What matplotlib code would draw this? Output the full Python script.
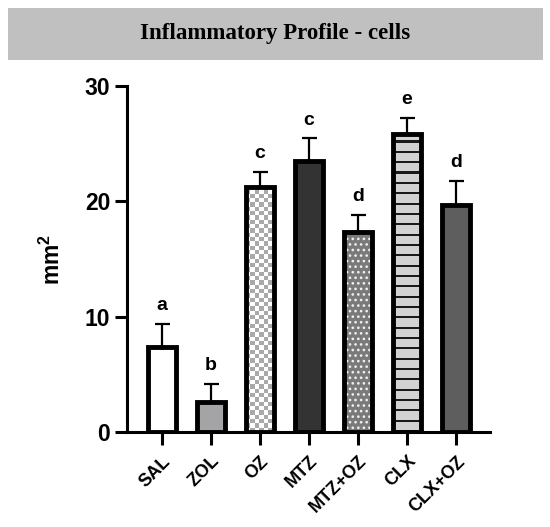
import numpy as np
import matplotlib
matplotlib.use("Agg")
import matplotlib.pyplot as plt
from matplotlib.patches import Rectangle
from matplotlib.colors import ListedColormap

plt.rcParams['font.family'] = ['Liberation Sans', 'DejaVu Sans']
plt.rcParams['font.weight'] = 'bold'
plt.rcParams['mathtext.fontset'] = 'custom'
plt.rcParams['mathtext.rm'] = 'Liberation Sans:bold'
plt.rcParams['mathtext.bf'] = 'Liberation Sans:bold'
plt.rcParams['hatch.linewidth'] = 1.1

categories = ["SAL", "ZOL", "OZ", "MTZ", "MTZ+OZ", "CLX", "CLX+OZ"]
means = [7.4, 2.6, 21.2, 23.5, 17.3, 25.8, 19.7]
errors = [2.0, 1.6, 1.35, 1.95, 1.55, 1.45, 2.1]
letters = ["a", "b", "c", "c", "d", "e", "d"]
yticks = [0, 10, 20, 30]

faces = ["white", "#a4a4a6", "white", "#333333", "#7a7a7a", "#d2d2d2", "#5e5e5e"]
title = "Inflammatory Profile - cells"

fig = plt.figure(figsize=(5.5, 5.27), dpi=100)

# title band
fig.patches.append(Rectangle((8/550, 1-60/527), 535/550, 52/527,
                             transform=fig.transFigure, facecolor="#c0c0c0",
                             edgecolor="none", zorder=0))
fig.text(0.5, 1-34/527, title, ha="center", va="center",
         fontsize=16.5, fontweight="bold", family="Liberation Serif")

ax = fig.add_axes([127/550, 1-432/527, (490-127)/550, (432-86)/527])
x = np.arange(len(categories))
width = 0.58

bars = ax.bar(x, means, width=width, color=faces, edgecolor="none", zorder=2)

# dotted pattern for MTZ+OZ
bars[4].set_hatch("...")
bars[4].set_edgecolor("#f0f0f0")
bars[4].set_linewidth(0)


def pattern_fill(bar, arr, cell_x, cell_y, colors):
    x0, y0 = bar.get_x(), bar.get_y()
    w, h = bar.get_width(), bar.get_height()
    nx = int(np.ceil(w / cell_x))
    ny = int(np.ceil(h / cell_y))
    img = arr(nx, ny)
    im = ax.imshow(img, extent=(x0, x0 + nx * cell_x, y0, y0 + ny * cell_y),
                   origin="lower", cmap=ListedColormap(colors),
                   interpolation="nearest", aspect="auto", zorder=2.5,
                   vmin=0, vmax=len(colors) - 1)
    im.set_clip_path(bar)


def checker(nx, ny):
    i, j = np.meshgrid(np.arange(nx), np.arange(ny))
    return ((i + j) % 2).astype(float)


def stripes(nx, ny):
    j = np.arange(ny)[:, None] * np.ones((1, nx))
    return (j % 5 == 0).astype(float)


pattern_fill(bars[2], checker, 0.088, 0.375, ["white", "#a9a9a9"])
pattern_fill(bars[5], stripes, 0.5, 0.179, ["#d2d2d2", "#1a1a1a"])

# error bars (upper only)
ax.errorbar(x, means, yerr=[np.zeros(len(means)), errors], fmt="none",
            ecolor="black", elinewidth=1.6, capsize=5.4, capthick=1.6, zorder=1.5)

# outlines
ax.bar(x, means, width=width, facecolor="none", edgecolor="black",
       linewidth=3.5, zorder=3)

for xi, m, e, l in zip(x, means, errors, letters):
    ax.text(xi, m + e + 0.85, l, ha="center", va="bottom", fontsize=14,
            fontweight="bold")

ax.set_xlim(-0.71, len(categories) - 1 + 0.69)
ax.set_ylim(0, 30)
ax.set_yticks(yticks)
ax.set_xticks(x)
ax.set_xticklabels(categories, rotation=45, ha="right", va="top",
                   rotation_mode="anchor", fontsize=13, fontweight="bold")
ax.tick_params(axis="y", labelsize=16.5, width=2.2, length=9, pad=3)
ax.tick_params(axis="x", width=2.2, length=9, pad=6)
for lab in ax.get_yticklabels():
    lab.set_fontweight("bold")
for s in ["top", "right"]:
    ax.spines[s].set_visible(False)
for s in ["left", "bottom"]:
    ax.spines[s].set_linewidth(2.2)
ax.set_ylabel(r"mm$^{2}$", fontsize=16.5, fontweight="bold", labelpad=14)

fig.savefig("out.png", dpi=100)
